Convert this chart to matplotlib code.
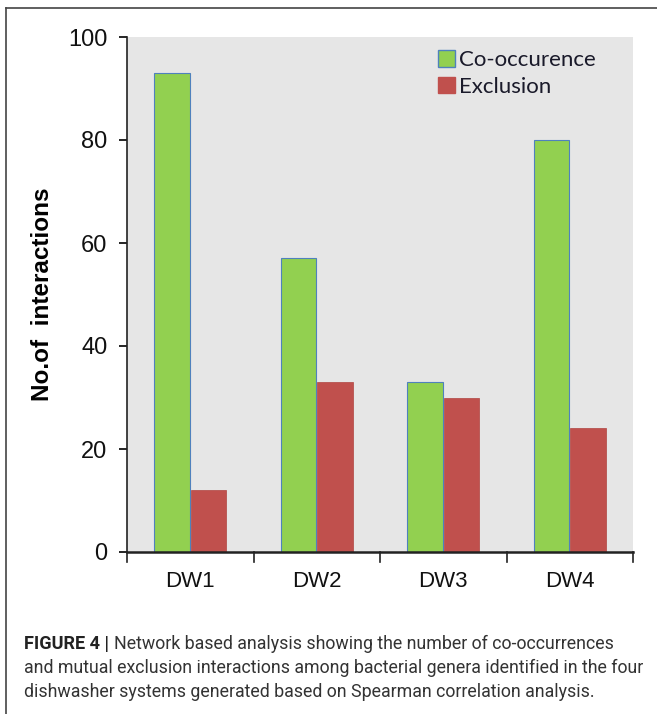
import numpy as np
import matplotlib.pyplot as plt
from matplotlib.lines import Line2D
from matplotlib.patches import Patch

# data
samples = ['DW1', 'DW2', 'DW3', 'DW4']
cooccur = [93, 57, 33, 80]
exclusion = [12, 33, 30, 24]
yticks = [0, 20, 40, 60, 80, 100]

green = '#92D050'
red = '#C0504D'

fig = plt.figure(figsize=(6.57, 7.14), dpi=100)
ax = fig.add_axes([127/657, 1-552/714, (633-127)/657, (552-37)/714])
ax.set_facecolor('#E6E6E6')

x = np.arange(len(samples))
w = 0.28
ax.bar(x - w/2 - 0.005, cooccur, w, color=green, edgecolor='#4F81BD', linewidth=0.8, zorder=2)
ax.bar(x + w/2 + 0.005, exclusion, w, color=red, edgecolor='#B04440', linewidth=0.5, zorder=2)

ax.set_xlim(-0.5, 3.5)
ax.set_ylim(0, 100)
ax.set_yticks(yticks)
ax.set_yticklabels([str(v) for v in yticks], fontsize=17, family='Liberation Sans', color='#111111')
ax.set_xticks(x)
ax.set_xticklabels(samples, fontsize=16, family='Liberation Sans', color='#111111')
ax.tick_params(axis='x', length=0, pad=14)
ax.tick_params(axis='y', length=6, width=1.2, pad=8, direction='out')
# x ticks at category boundaries
for b in np.arange(-0.5, 4.0, 1.0):
    ax.plot([b, b], [0, -2.0], color='#222222', lw=1.2, clip_on=False, zorder=3)

for s in ['top', 'right']:
    ax.spines[s].set_visible(False)
ax.spines['left'].set_linewidth(1.2)
ax.spines['bottom'].set_linewidth(1.8)
ax.spines['left'].set_color('#222222')
ax.spines['bottom'].set_color('#222222')

ax.set_ylabel('No.of  interactions', fontsize=17.5, fontweight='bold',
              family='Liberation Sans', labelpad=10)

handles = [Patch(facecolor=green, edgecolor='#4F81BD', label='Co-occurence'),
           Patch(facecolor=red, edgecolor=red, label='Exclusion')]
ax.legend(handles=handles, loc='upper left', bbox_to_anchor=((425-127)/506, 1.0), frameon=False,
          prop={'family': 'Lato', 'size': 16}, handlelength=0.75, handleheight=0.75,
          handletextpad=0.2, labelspacing=0.3, borderaxespad=0.2, labelcolor='#1a1a2a')

# frame lines around the figure panel
fig.add_artist(Line2D([6/657, 1.0], [1-8/714, 1-8/714], color='#444444', lw=1.2))
fig.add_artist(Line2D([6/657, 6/657], [1-8/714, 0.0], color='#444444', lw=1.2))

# caption
cap_x = 24/657
cs = 12.8
t = fig.text(cap_x, 1-644/714, 'FIGURE 4 |', fontsize=cs + 0.3, fontweight='bold',
             family='Roboto', color='#222222', va='center')
fig.canvas.draw()
bb = t.get_window_extent()
fig.text(bb.x1/657 + 5/657, 1-644/714, 'Network based analysis showing the number of co-occurrences',
         fontsize=cs, family='Roboto', color='#333333', va='center')
fig.text(cap_x, 1-668/714, 'and mutual exclusion interactions among bacterial genera identified in the four',
         fontsize=cs, family='Roboto', color='#333333', va='center')
fig.text(cap_x, 1-692/714, 'dishwasher systems generated based on Spearman correlation analysis.',
         fontsize=cs, family='Roboto', color='#333333', va='center')

fig.savefig('out.png', dpi=100)
